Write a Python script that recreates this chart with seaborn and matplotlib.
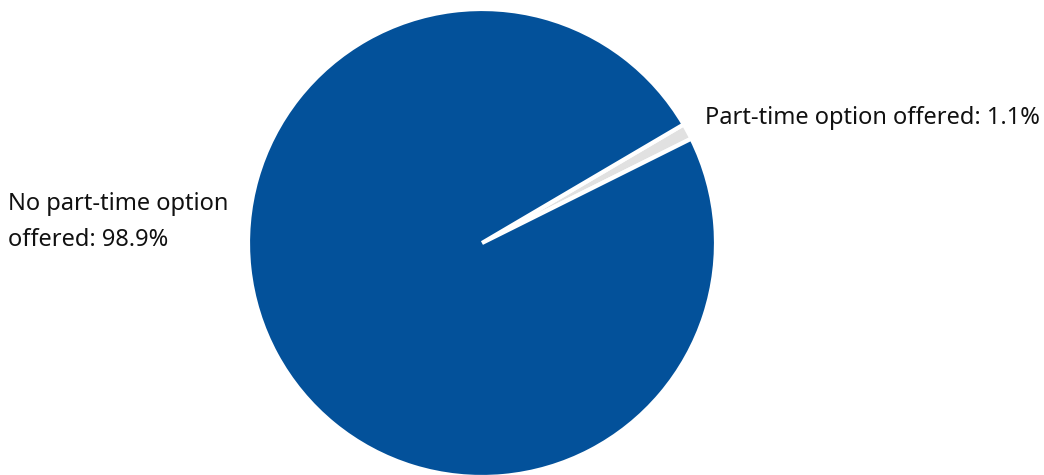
import matplotlib
matplotlib.use("Agg")
import matplotlib.pyplot as plt
import seaborn as sns

categories = ["Part-time option offered", "No part-time option offered"]
values = [1.1, 98.9]
label_texts = ["Part-time option offered: 1.1%", "No part-time option\noffered: 98.9%"]
colors = ["#e1e1e1", "#03519a"]

sns.set_theme(style="white")
plt.rcParams['font.family'] = ['Noto Sans', 'DejaVu Sans']

fig = plt.figure(figsize=(10.44, 4.75), dpi=100)
ax = fig.add_axes([0, 0, 1, 1])

wedges, _ = ax.pie(values, colors=sns.color_palette(colors), startangle=26.5,
                   counterclock=True, center=(482, 232), radius=234,
                   explode=[0.02, 0],
                   wedgeprops=dict(edgecolor="white", linewidth=3))
ax.set_xlim(0, 1044)
ax.set_ylim(0, 475)
ax.set_aspect('equal')
ax.axis('off')

ax.text(705, 475 - 118, label_texts[0], fontsize=17, color="#111111",
        ha="left", va="center")
ax.text(8, 475 - 222, label_texts[1], fontsize=17, color="#111111",
        ha="left", va="center", linespacing=1.7)

fig.savefig("out.png", dpi=100)
